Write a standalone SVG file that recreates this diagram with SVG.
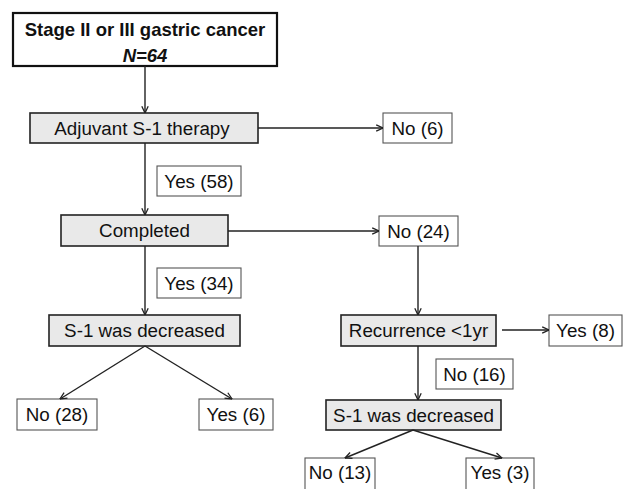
<svg xmlns="http://www.w3.org/2000/svg" width="627" height="489" viewBox="0 0 627 489">
<style>
text{font-family:"Liberation Sans",Arial,sans-serif;font-size:18.8px;fill:#111;text-anchor:middle}
.title{font-weight:bold;font-size:18.5px}
.gray{fill:#e9e9e9;stroke:#222;stroke-width:1.6}
.plain{fill:#fff;stroke:#555;stroke-width:1.1}
.top{fill:#fff;stroke:#111;stroke-width:2.2}
.conn line{stroke:#222;stroke-width:1.4;marker-end:url(#ah)}
</style>
<defs>
<marker id="ah" viewBox="0 0 10 10" refX="9.5" refY="5" markerWidth="8" markerHeight="8" markerUnits="userSpaceOnUse" orient="auto">
<path d="M1,1 L9.5,5 L1,9" fill="none" stroke="#222" stroke-width="1.6"/>
</marker>
</defs>
<rect width="627" height="489" fill="#fff"/>
<g id="start"><rect class="top" x="13" y="13" width="264" height="53"/><text class="title" x="145" y="36">Stage II or III gastric cancer</text><text class="title" x="145" y="62"><tspan font-style="italic">N=64</tspan></text></g>
<g id="adjuvant"><rect class="gray" x="30" y="113" width="228" height="30"/><text x="142" y="134.5">Adjuvant S-1 therapy</text></g>
<g id="no6"><rect class="plain" x="383" y="113" width="69" height="30"/><text x="417.5" y="134.5">No (6)</text></g>
<g id="yes58"><rect class="plain" x="157" y="166" width="84" height="30"/><text x="199" y="187.5">Yes (58)</text></g>
<g id="completed"><rect class="gray" x="61" y="215" width="167" height="31"/><text x="144.5" y="237">Completed</text></g>
<g id="no24"><rect class="plain" x="379" y="216" width="79" height="30"/><text x="418.5" y="237.5">No (24)</text></g>
<g id="yes34"><rect class="plain" x="157" y="268" width="84" height="30"/><text x="199" y="289.5">Yes (34)</text></g>
<g id="dec1"><rect class="gray" x="49" y="315" width="191" height="31"/><text x="144.5" y="337">S-1 was decreased</text></g>
<g id="recur"><rect class="gray" x="341" y="315" width="155" height="31"/><text x="418.5" y="337">Recurrence &lt;1yr</text></g>
<g id="yes8"><rect class="plain" x="549" y="315" width="73" height="31"/><text x="585.5" y="337">Yes (8)</text></g>
<g id="no16"><rect class="plain" x="436" y="359" width="77" height="30"/><text x="474.5" y="380.5">No (16)</text></g>
<g id="no28"><rect class="plain" x="17" y="399" width="80" height="31"/><text x="57" y="421">No (28)</text></g>
<g id="yes6"><rect class="plain" x="199" y="399" width="74" height="31"/><text x="236" y="421">Yes (6)</text></g>
<g id="dec2"><rect class="gray" x="326" y="400" width="175" height="30"/><text x="413.5" y="421.5">S-1 was decreased</text></g>
<g id="no13"><rect class="plain" x="305" y="458" width="70" height="40"/><text x="340" y="479">No (13)</text></g>
<g id="yes3"><rect class="plain" x="466" y="458" width="68" height="40"/><text x="500" y="479">Yes (3)</text></g>
<g class="conn" id="connectors">
<line x1="145" y1="66" x2="145" y2="113"/>
<line x1="258" y1="128" x2="383" y2="128"/>
<line x1="145" y1="143" x2="145" y2="215"/>
<line x1="228" y1="231" x2="379" y2="231"/>
<line x1="145" y1="246" x2="145" y2="315"/>
<line x1="418" y1="246" x2="418" y2="315"/>
<line x1="145" y1="346" x2="60" y2="399"/>
<line x1="145" y1="346" x2="232" y2="399"/>
<line x1="502" y1="330" x2="549" y2="330"/>
<line x1="418" y1="346" x2="418" y2="400"/>
<line x1="413" y1="430" x2="345" y2="458"/>
<line x1="413" y1="430" x2="502" y2="458"/>
</g>
</svg>
